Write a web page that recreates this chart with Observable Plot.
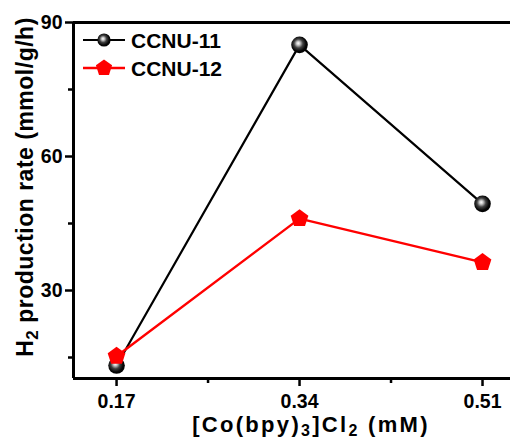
<!DOCTYPE html>
<html>
<head>
<meta charset="utf-8">
<script src="https://cdn.jsdelivr.net/npm/d3@7"></script>
<script src="https://cdn.jsdelivr.net/npm/@observablehq/plot@0.6"></script>
<style>
  html, body { margin: 0; padding: 0; background: #fff; }
</style>
</head>
<body>
<div id="chart"></div>
<script>
// ---- data ----
const concentrations = [0.17, 0.34, 0.51];
const ccnu11 = [13.2, 85.0, 49.4];
const ccnu12 = [15.3, 46.1, 36.3];
const seriesNames = ["CCNU-11", "CCNU-12"];
const xTicks = [0.17, 0.34, 0.51];
const xMinorTicks = [0.255, 0.425];
const yTicks = [30, 60, 90];
const yMinorTicks = [15, 45, 75];

const rows11 = concentrations.map((x, i) => ({x, y: ccnu11[i]}));
const rows12 = concentrations.map((x, i) => ({x, y: ccnu12[i]}));

const xDomain = [0.13, 0.536];
const yDomain = [10.3, 90];

const pentagon = {
  draw(context, size) {
    const r = Math.sqrt(size / Math.PI);
    for (let k = 0; k < 5; ++k) {
      const a = -Math.PI / 2 + k * 2 * Math.PI / 5;
      const px = r * Math.cos(a), py = r * Math.sin(a);
      if (k === 0) context.moveTo(px, py); else context.lineTo(px, py);
    }
    context.closePath();
  }
};

const font = "'Liberation Sans', Arial, sans-serif";

const svg = Plot.plot({
  width: 510,
  height: 438,
  marginLeft: 73,
  marginRight: 0,
  marginTop: 22,
  marginBottom: 60,
  x: {domain: xDomain, label: null},
  y: {domain: yDomain, label: null},
  style: {fontFamily: font, fontWeight: "bold", fontSize: "19.5px", color: "black", background: "white", overflow: "visible"},
  marks: [
    Plot.axisX(xTicks, {tickSize: 8, tickPadding: 8, strokeWidth: 2.5, tickFormat: d => d.toFixed(2), label: null}),
    Plot.axisX(xMinorTicks, {tickSize: 5, strokeWidth: 2.5, tickFormat: () => "", label: null}),
    Plot.axisY(yTicks, {tickSize: 8, tickPadding: 3, strokeWidth: 2.5, tickFormat: d => String(d), label: null}),
    Plot.axisY(yMinorTicks, {tickSize: 5, strokeWidth: 2.5, tickFormat: () => "", label: null}),
    Plot.ruleY([yDomain[0]], {stroke: "black", strokeWidth: 3}),
    Plot.ruleY([yDomain[1]], {stroke: "black", strokeWidth: 3}),
    Plot.ruleX([xDomain[0]], {stroke: "black", strokeWidth: 3}),
    Plot.line(rows11, {x: "x", y: "y", stroke: "black", strokeWidth: 2.2}),
    Plot.dot(rows11, {x: "x", y: "y", r: 8.3, fill: "url(#sphere)", stroke: "none"}),
    Plot.line(rows12, {x: "x", y: "y", stroke: "#ff0000", strokeWidth: 2.4}),
    Plot.dot(rows12, {x: "x", y: "y", r: 9.3, symbol: pentagon, fill: "#ff0000", stroke: "none"})
  ]
});

const s = d3.select(svg);
const defs = s.insert("defs", ":first-child");
const grad = defs.append("radialGradient").attr("id", "sphere")
  .attr("cx", "0.45").attr("cy", "0.45").attr("r", "0.6").attr("fx", "0.42").attr("fy", "0.4");
[[0, "#ffffff"], [0.18, "#c8c8c8"], [0.45, "#404040"], [0.75, "#050505"], [1, "#000000"]]
  .forEach(([o, c]) => grad.append("stop").attr("offset", o).attr("stop-color", c));

// X-axis title
const xt = s.append("text").attr("x", 311).attr("y", 432)
  .attr("text-anchor", "middle").attr("font-family", font).attr("font-weight", "bold")
  .attr("font-size", 22).attr("letter-spacing", 2.3).attr("fill", "black");
xt.append("tspan").text("[Co(bpy)");
xt.append("tspan").attr("dy", 4).attr("font-size", 16).text("3");
xt.append("tspan").attr("dy", -4).text("]Cl");
xt.append("tspan").attr("dy", 4).attr("font-size", 16).text("2");
xt.append("tspan").attr("dy", -4).text(" (mM)");

// Y-axis title
const yt = s.append("text").attr("transform", "translate(33,187) rotate(-90)")
  .attr("text-anchor", "middle").attr("font-family", font).attr("font-weight", "bold")
  .attr("font-size", 23).attr("letter-spacing", 0.5).attr("fill", "black");
yt.append("tspan").text("H");
yt.append("tspan").attr("dy", 5).attr("font-size", 17).text("2");
yt.append("tspan").attr("dy", -5).text(" production rate (mmol/g/h)");

// Legend
const lg = s.append("g").attr("text-anchor", "start");
const legendRows = [
  {name: seriesNames[0], y: 40, color: "black", w: 2},
  {name: seriesNames[1], y: 68, color: "#ff0000", w: 2.5}
];
legendRows.forEach((d, i) => {
  lg.append("line").attr("x1", 83).attr("x2", 125).attr("y1", d.y).attr("y2", d.y)
    .attr("stroke", d.color).attr("stroke-width", d.w);
  if (i === 0) {
    lg.append("circle").attr("cx", 104).attr("cy", d.y).attr("r", 6.6).attr("fill", "url(#sphere)");
  } else {
    const p = d3.path(); pentagon.draw(p, 8.5 * 8.5 * Math.PI);
    lg.append("path").attr("d", p.toString()).attr("transform", `translate(104,${d.y})`).attr("fill", "#ff0000");
  }
  lg.append("text").attr("x", 131).attr("y", d.y + 7.5).attr("text-anchor", "start").attr("font-family", font)
    .attr("font-weight", "bold").attr("font-size", 21).attr("fill", "black").text(d.name);
});

document.getElementById("chart").appendChild(svg);
</script>
</body>
</html>
